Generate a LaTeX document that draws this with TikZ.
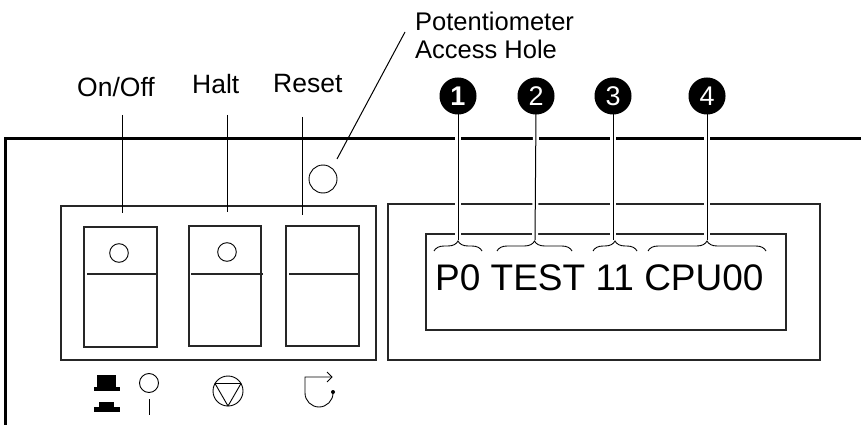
\documentclass[tikz,border=0pt]{standalone}
\usepackage{fontspec}
\setmainfont{Liberation Sans}
\usetikzlibrary{decorations.pathreplacing}
\begin{document}
\begin{tikzpicture}[x=1pt,y=-1pt,
  lbl/.style={font=\fontsize{26.5}{28}\selectfont, inner sep=0pt, anchor=base west},
  potlbl/.style={font=\fontsize{25.5}{26}\selectfont, inner sep=0pt, anchor=base west},
  disptxt/.style={font=\fontsize{37}{40}\selectfont, inner sep=0pt, anchor=base west},
  panel/.style={draw=black, line width=3pt},
  box/.style={draw=black!85, line width=1.2pt},
  thinline/.style={draw=black, line width=0.9pt},
  lead/.style={draw=black, line width=1pt},
  halo/.style={preaction={draw=white, line width=6pt}},
  numtxt/.style={inner sep=0pt, text=white, font=\fontsize{27}{27}\selectfont},
  brc/.style={decorate, decoration={brace, amplitude=10pt}, line width=0.9pt},
  hole/.style={draw=black, line width=0.9pt}
]
\useasboundingbox (0,0) rectangle (861,425);

% outer panel
\draw[panel] (5,425) -- (5,138) -- (861,138);

% switch box and switches
\draw[box] (61,206) rectangle (376,360);
\draw[box] (84,227) rectangle (157,347);
\draw[box] (87,274) -- (157,274);
\draw[thinline] (119,253) circle (9.3);
\draw[box] (189,226) rectangle (261,346);
\draw[box] (191,274) -- (263,274);
\draw[thinline] (227,252) circle (9.3);
\draw[box] (286,226) rectangle (359,346);
\draw[box] (289,274) -- (359,274);

% display boxes
\draw[box] (388,204) rectangle (820,360);
\draw[box] (426,234) rectangle (786,330);

% potentiometer hole
\node[circle, hole, minimum size=28pt, inner sep=0pt] (hole) at (323,179) {};

% labels
\node[lbl] (onoff) at (77,97) {On/Off};
\node[lbl] (halt) at (192,94) {Halt};
\node[lbl] (reset) at (273,93) {Reset};
\node[potlbl] (pot1) at (415,30.5) {Potentiometer};
\node[potlbl] (pot2) at (415,59) {Access Hole};
\node[disptxt] (disp) at (435,290) {P0 TEST 11 CPU00};

% switch leaders
\coordinate (s1a) at (122,115); \coordinate (s1b) at (122,213);
\coordinate (s2a) at (227,115); \coordinate (s2b) at (227,212);
\coordinate (s3a) at (302,117); \coordinate (s3b) at (302,215);
\draw[lead] (s1a) -- (s1b);
\draw[lead] (s2a) -- (s2b);
\draw[lead] (s3a) -- (s3b);

% potentiometer leader
\coordinate (pa) at (405,32);
\coordinate (pb) at (337,159);
\draw[lead] (pa) -- (pb);

% number leaders (with white halo)
\coordinate (t1) at (458,113); \coordinate (b1) at (458,240);
\coordinate (t2) at (536,113); \coordinate (b2) at (535,240);
\coordinate (t3) at (613,113); \coordinate (b3) at (613,240);
\coordinate (t4) at (707,113); \coordinate (b4) at (707,240);
\draw[lead, halo] (t1) -- (b1);
\draw[lead, halo] (t2) -- (b2);
\draw[lead, halo] (t3) -- (b3);
\draw[lead, halo] (t4) -- (b4);

% number disks
\foreach \cx in {458,536,613,707}
  \fill plot[domain=0:360, samples=73, smooth cycle] ({\cx+18.5*cos(\x)}, {96+18.5*sin(\x)});
\node[numtxt] (n1) at (458,96) {\textbf{1}};
\node[numtxt] (n2) at (536,96) {2};
\node[numtxt] (n3) at (613,96) {3};
\node[numtxt] (n4) at (707,96) {4};

% braces
\draw[brc] (434,251) -- (482,251);
\draw[brc] (497,251) -- (572,251);
\draw[brc] (593,251) -- (637,251);
\draw[brc] (648,251) -- (766,251);

% bottom icons: on/off
\fill (97,375) rectangle (116,387);
\fill (94,387) rectangle (120,391);
\fill (99,402) rectangle (114,407);
\fill (94,407) rectangle (120,412);
\draw[thinline] (149,383) circle (9.5);
\draw[thinline] (149,399) -- (149,415);

% halt icon
\draw[thinline] (228,391) circle (15);
\draw[thinline, line join=round] (215,383.5) -- (241,383.5) -- (228,406) -- cycle;

% reset icon
\draw[thinline] (331,377) -- (305,377) -- (305,393) arc[start angle=180, end angle=360, radius=14pt] -- (333,392);
\draw[thinline] (327,372) -- (332,377) -- (327,382);
\fill (333,392) circle (2);
\end{tikzpicture}
\end{document}
